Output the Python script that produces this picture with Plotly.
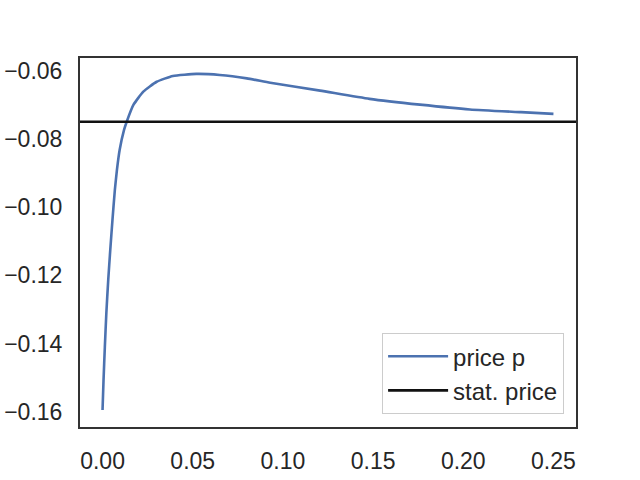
import plotly.graph_objects as go

# data
t_vals = [0, 0.00055, 0.00127, 0.00211, 0.00316, 0.00427, 0.00549, 0.00682, 0.00798,
          0.00948, 0.01192, 0.01341, 0.0171, 0.0226, 0.030, 0.039, 0.052, 0.065,
          0.080, 0.093, 0.1206, 0.148, 0.176, 0.2037, 0.232, 0.25]
price_p = [-0.1594, -0.1506, -0.1410, -0.1310, -0.1213, -0.1126, -0.1038, -0.0950,
           -0.0891, -0.0833, -0.0774, -0.0750, -0.0701, -0.0662, -0.0633, -0.0616,
           -0.0610, -0.0613, -0.0623, -0.0636, -0.0659, -0.0683, -0.0700, -0.0714,
           -0.0722, -0.0727]
stat_price = -0.075

x_range = [-0.0125, 0.2625]
y_range = [-0.1644, -0.05634]
x_ticks = [0.00, 0.05, 0.10, 0.15, 0.20, 0.25]
y_ticks = [-0.16, -0.14, -0.12, -0.10, -0.08, -0.06]

FONT = "Liberation Sans, Arial, sans-serif"
TXT = "#262626"

fig = go.Figure()
fig.add_trace(go.Scatter(x=t_vals, y=price_p, mode="lines", name="price p",
                         line=dict(color="#4c72b0", width=2.6, shape="spline",
                                   smoothing=0.5)))
fig.add_trace(go.Scatter(x=x_range, y=[stat_price, stat_price], mode="lines",
                         name="stat. price", line=dict(color="#111111", width=2.6)))

axis_common = dict(showgrid=False, zeroline=False, showline=True, mirror=True,
                   linecolor="#333333", linewidth=2, ticks="outside",
                   tickcolor="rgba(0,0,0,0)", automargin=False,
                   tickfont=dict(family=FONT, size=23, color=TXT))

fig.update_xaxes(range=x_range, tickvals=x_ticks, tickformat=".2f", ticklen=12,
                 **axis_common)
fig.update_yaxes(range=y_range, tickvals=y_ticks, tickformat=".2f", ticklen=11,
                 **axis_common)

fig.update_layout(
    width=640, height=480,
    margin=dict(l=80, r=64, t=58, b=53),
    paper_bgcolor="white", plot_bgcolor="white",
    showlegend=True,
    legend=dict(x=0.976, y=0.035, xanchor="right", yanchor="bottom",
                bgcolor="white", bordercolor="#cccccc", borderwidth=1,
                itemwidth=60,
                font=dict(family=FONT, size=24, color=TXT)),
)

fig.write_html("out.html")
